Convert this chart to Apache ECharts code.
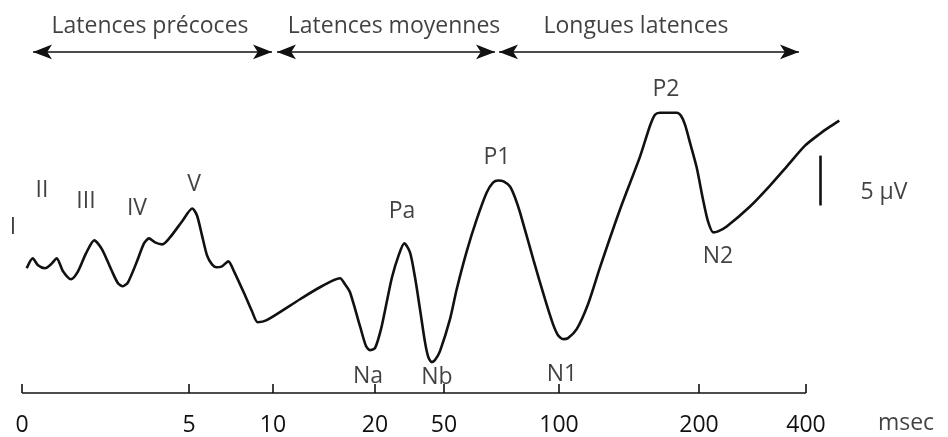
<!DOCTYPE html>
<html>
<head>
<meta charset="utf-8">
<script src="https://cdn.jsdelivr.net/npm/echarts@6/dist/echarts.min.js"></script>
<style>
  html, body { margin: 0; padding: 0; background: #fff; }
  #chart { width: 948px; height: 437px; }
</style>
</head>
<body>
<div id="chart"></div>
<script>
// axe du temps déformé : position sur l'axe -> libellé en msec
const tickPos = [0, 167, 251, 353, 422, 537, 677, 784]
const tickLabels = ['0', '5', '10', '20', '50', '100', '200', '400']

// tracé du potentiel évoqué : [position sur l'axe, amplitude µV]
const wave = [
  [4.7, 12.5], [10.7, 13.5], [16, 12.8], [23, 12.5], [29, 12.9], [34.7, 13.5],
  [41, 12.2], [49, 11.4], [56, 12.2], [64, 14], [72.3, 15.3], [80, 14.4],
  [90, 12.2], [96, 11], [100.7, 10.7], [106, 11.1], [115, 13.2], [122, 15],
  [127, 15.5], [133, 15.1], [140.3, 14.9], [148, 15.6], [160, 17.2], [170.3, 18.5],
  [175, 17.8], [180, 15.8], [185, 13.8], [190, 12.9], [194.7, 12.6], [200, 12.7],
  [206.3, 13.2], [212, 12.2], [223, 9.8], [230, 8.2], [235.7, 7.1], [244.7, 7.3],
  [278, 9.4], [298, 10.6], [318, 11.5], [323, 10.9], [328, 10.1], [338, 6.7],
  [344, 4.7], [348, 4.3], [353, 4.5], [359, 6.4], [364.7, 9.1], [370, 11.6],
  [376.3, 13.7], [382.3, 15], [388, 14.1], [393, 11.6], [398, 8.4], [403, 5.1],
  [406.3, 3.6], [409.7, 3.1], [413, 3.3], [418, 4.2], [428, 7.4], [434.7, 10.4],
  [444.7, 14.2], [454.7, 17.4], [464.7, 20.1], [471, 21.1], [476.3, 21.3], [482, 21.2],
  [488, 20.7], [493, 19.6], [498, 18.1], [511.3, 13.4], [523, 9.4], [531, 6.9],
  [536, 5.8], [541.3, 5.4], [546, 5.5], [554.7, 6.4], [566, 8.9], [578, 12.6],
  [598, 18.4], [618, 23.7], [628, 26.8], [633, 27.9], [638, 28.1], [654.7, 28.1],
  [659, 27.8], [663, 26.9], [668, 25.1], [674.7, 22.6], [681, 19.4], [686, 17.2],
  [691.3, 16.1], [696, 16.2], [704.7, 16.7], [728, 18.7], [748, 20.8], [764.7, 22.7],
  [783, 24.8], [798, 26], [808, 26.7], [817.3, 27.3],
]

// noms des ondes et textes
const peakNames = ['I', 'II', 'III', 'IV', 'V', 'Na', 'Pa', 'Nb', 'P1', 'N1', 'P2', 'N2']
const peakPos = [
  [-9, 16.6], [20, 20.3], [64, 19.2], [115, 18.5], [172, 20.9], [346, 1.7],
  [380, 18.2], [415, 1.6], [475, 23.6], [540, 1.9], [644, 30.4], [696, 13.7],
]
const bandNames = ['Latences précoces', 'Latences moyennes', 'Longues latences']
const bandFrom = [11, 255, 477]
const bandTo = [250, 473, 777]
const bandLevel = 34.2
const bandTextPos = [[128, 36.7], [372, 36.7], [614, 36.7]]
const scaleBar = [798, 18.8, 23.8] // 5 µV
const extraTexts = [['5 µV', 862, 20.1], ['msec', 884, -3.1]]

const font = 'Open Sans'
const ink = '#111'

const chart = echarts.init(document.getElementById('chart'))

const labelPoints = []
peakNames.forEach((n, i) => labelPoints.push({ name: n, value: peakPos[i] }))
bandNames.forEach((n, i) => labelPoints.push({ name: n, value: bandTextPos[i] }))
extraTexts.forEach((t) => labelPoints.push({ name: t[0], value: [t[1], t[2]] }))

const arrows = bandNames.map((n, i) => [
  { coord: [bandFrom[i], bandLevel] },
  { coord: [bandTo[i], bandLevel] },
])

const option = {
  animation: false,
  grid: { left: 22, right: 108, top: 4, bottom: 43 },
  xAxis: {
    type: 'value',
    min: 0,
    max: 818,
    splitLine: { show: false },
    axisLine: { show: false },
    axisTick: {
      show: true,
      inside: true,
      length: 9,
      customValues: tickPos,
      lineStyle: { color: ink, width: 1.6 },
    },
    axisLabel: {
      customValues: tickPos,
      formatter: (v) => tickLabels[tickPos.indexOf(v)],
      margin: 21,
      fontFamily: font,
      fontSize: 23,
      color: ink,
    },
  },
  yAxis: { type: 'value', show: false, min: 0, max: 39 },
  series: [
    {
      type: 'line',
      data: wave,
      smooth: 0.25,
      symbol: 'none',
      clip: false,
      lineStyle: { color: ink, width: 2.6 },
      markLine: {
        silent: true,
        symbol: ['arrow', 'arrow'],
        symbolSize: [11, 19],
        label: { show: false },
        lineStyle: { type: 'solid', color: ink, width: 1.6 },
        data: arrows.concat([
          // échelle verticale 5 µV
          [
            { coord: [scaleBar[0], scaleBar[1]], symbol: 'none', lineStyle: { width: 2.6 } },
            { coord: [scaleBar[0], scaleBar[2]], symbol: 'none' },
          ],
          // ligne de l'axe du temps
          [
            { coord: [tickPos[0], 0], symbol: 'none' },
            { coord: [tickPos[tickPos.length - 1], 0], symbol: 'none' },
          ],
        ]),
      },
    },
    {
      type: 'scatter',
      data: labelPoints,
      symbolSize: 0,
      clip: false,
      silent: true,
      label: {
        show: true,
        position: 'inside',
        formatter: (p) => p.name,
        fontFamily: font,
        fontSize: 23,
        color: ink,
      },
    },
  ],
}

chart.setOption(option)
</script>
</body>
</html>
